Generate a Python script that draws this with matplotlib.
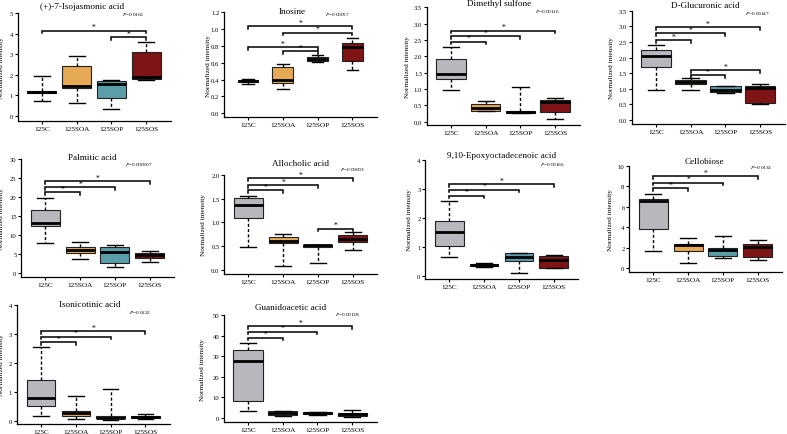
import matplotlib
matplotlib.use("Agg")
import matplotlib.pyplot as plt
from matplotlib.ticker import FormatStrFormatter, MultipleLocator

plt.rcParams['font.family'] = ['Liberation Serif', 'DejaVu Serif']
plt.rcParams['mathtext.fontset'] = 'stix'

W, H = 787, 435

groups = ["125C", "125SOA", "125SOP", "125SOS"]
colors = ["#B7B8BE", "#E6AA55", "#5B9DA8", "#7E1416"]

titles = ["(+)-7-Isojasmonic acid", "Inosine", "Dimethyl sulfone", "D-Glucuronic acid",
          "Palmitic acid", "Allocholic acid", "9,10-Epoxyoctadecenoic acid", "Cellobiose",
          "Isonicotinic acid", "Guanidoacetic acid"]
p_values = ["0.0163", "0.00057", "0.00116", "0.00147", "0.000907", "0.00603",
            "0.00166", "0.0133", "0.0222", "0.00138"]

# five-number summaries per group: [min, q1, median, q3, max]
isojasmonic = [[0.72, 1.10, 1.17, 1.23, 1.93], [0.65, 1.38, 1.45, 2.45, 2.93],
               [0.32, 0.89, 1.55, 1.70, 1.75], [1.75, 1.80, 1.91, 3.09, 3.61]]
inosine = [[0.345, 0.37, 0.385, 0.40, 0.41], [0.29, 0.36, 0.40, 0.555, 0.58],
           [0.61, 0.62, 0.645, 0.67, 0.69], [0.515, 0.625, 0.785, 0.83, 0.89]]
dimethyl = [[0.97, 1.31, 1.46, 1.92, 2.30], [0.32, 0.34, 0.42, 0.53, 0.63],
            [0.27, 0.27, 0.30, 0.33, 1.05], [0.08, 0.29, 0.60, 0.67, 0.72]]
glucuronic = [[0.97, 1.71, 2.05, 2.25, 2.40], [0.97, 1.14, 1.23, 1.28, 1.33],
              [0.85, 0.91, 0.97, 1.08, 1.08], [0.51, 0.54, 1.01, 1.08, 1.16]]
palmitic = [[7.9, 12.3, 13.1, 16.7, 19.7], [3.7, 5.35, 6.05, 6.8, 8.2],
            [1.5, 2.7, 5.6, 6.9, 7.3], [2.8, 3.9, 4.7, 5.35, 5.9]]
allocholic = [[0.49, 1.09, 1.37, 1.52, 1.56], [0.09, 0.57, 0.60, 0.685, 0.755],
              [0.14, 0.48, 0.52, 0.53, 0.53], [0.41, 0.59, 0.65, 0.74, 0.79]]
epoxy = [[0.66, 1.03, 1.49, 1.90, 2.59], [0.31, 0.33, 0.37, 0.40, 0.44],
         [0.11, 0.49, 0.63, 0.77, 0.80], [0.26, 0.26, 0.54, 0.69, 0.71]]
cellobiose = [[1.69, 3.81, 6.51, 6.74, 7.23], [0.49, 1.63, 2.20, 2.35, 2.93],
              [0.94, 1.21, 1.76, 1.95, 3.16], [0.81, 1.11, 2.08, 2.35, 2.74]]
isonicotinic = [[0.15, 0.52, 0.77, 1.41, 2.55], [0.05, 0.15, 0.26, 0.34, 0.84],
                [0.02, 0.08, 0.11, 0.17, 1.11], [0.07, 0.09, 0.13, 0.16, 0.23]]
guanidoacetic = [[3.4, 8.4, 27.6, 33.2, 36.3], [0.8, 1.6, 2.5, 3.4, 3.5],
                 [1.6, 1.8, 2.3, 2.8, 3.0], [0.6, 0.9, 1.7, 2.5, 3.8]]
panel_stats = [isojasmonic, inosine, dimethyl, glucuronic, palmitic, allocholic,
               epoxy, cellobiose, isonicotinic, guanidoacetic]

# significance brackets: (group a, group b, height)
brackets = [
    [(0, 3, 4.15), (2, 3, 3.83)],
    [(0, 3, 1.04), (1, 3, 0.96), (0, 2, 0.79), (1, 2, 0.74)],
    [(0, 3, 2.79), (0, 2, 2.61), (0, 1, 2.45)],
    [(0, 3, 2.97), (0, 2, 2.79), (0, 1, 2.57), (1, 3, 1.61), (1, 2, 1.44)],
    [(0, 3, 24.1), (0, 2, 22.7), (0, 1, 21.2)],
    [(0, 3, 1.93), (0, 2, 1.79), (0, 1, 1.68), (2, 3, 0.87)],
    [(0, 3, 3.16), (0, 2, 2.97), (0, 1, 2.76)],
    [(0, 3, 8.96), (0, 2, 8.34), (0, 1, 7.78)],
    [(0, 3, 3.10), (0, 2, 2.90), (0, 1, 2.72)],
    [(0, 3, 44.8), (0, 2, 41.9), (0, 1, 39.0)],
]

y_max = [5, 1.2, 3.5, 3.5, 30, 2.0, 4, 10, 4, 50]
y_step = [1, 0.2, 0.5, 0.5, 5, 0.5, 1, 2, 1, 10]
y_fmt = ["%d", "%.1f", "%.1f", "%.1f", "%d", "%.1f", "%d", "%d", "%d", "%d"]

# layout in pixels: left, top(ymax), zero line, x-axis line
layout = [(17.5, 14, 117, 121.7), (223.7, 13.3, 114.3, 118.3), (426.6, 8.3, 122.7, 126),
          (631.5, 11.7, 121, 125), (21, 160, 274, 278.3), (224, 175.7, 271, 275),
          (425, 160.7, 276.7, 280), (629, 166.7, 269, 273.3), (16.7, 305.7, 421.7, 425),
          (223.6, 316, 419, 423.3)]
title_pos = [(82, 7), (292, 11.5), (499, 4.5), (705, 6), (92, 158), (300, 164),
             (502, 156), (704, 161.5), (90, 305), (290.5, 308.5)]
pval_pos = [(133.5, 14), (337, 15), (548, 11.7), (758, 13.3), (139, 164.3), (353, 170),
            (553, 165), (761, 167.7), (140, 312.7), (347.5, 315)]
ylabel_dx = [13, 12.5, 16.6, 18, 17, 18, 13, 16, 12.7, 18.6]
box_w = [0.83, 0.6, 0.85, 0.87, 0.83, 0.83, 0.82, 0.83, 0.82, 0.84]
AX_W = 153

fig = plt.figure(figsize=(W / 100, H / 100), dpi=100)

for k in range(10):
    left, top, zero, bottom = layout[k]
    ax = fig.add_axes([left / W, 1 - bottom / H, AX_W / W, (bottom - top) / H])
    ymax = y_max[k]
    ylo = -(bottom - zero) / (zero - top) * ymax
    stats = []
    for g, s in zip(groups, panel_stats[k]):
        stats.append(dict(label=g, whislo=s[0], q1=s[1], med=s[2], q3=s[3], whishi=s[4]))
    bw = box_w[k]
    bp = ax.bxp(stats, positions=[1, 2, 3, 4], widths=bw, patch_artist=True,
                showfliers=False, capwidths=bw * 0.55,
                boxprops=dict(linewidth=0.8, edgecolor="#222222"),
                medianprops=dict(color="black", linewidth=2.0, solid_capstyle="butt"),
                whiskerprops=dict(color="black", linewidth=1.0, linestyle=(0, (2.2, 1.6))),
                capprops=dict(color="black", linewidth=1.0))
    for patch, c in zip(bp["boxes"], colors):
        patch.set_facecolor(c)
    ax.set_xlim(0.3, 4.7)
    ax.set_ylim(ylo, ymax)
    ax.yaxis.set_major_locator(MultipleLocator(y_step[k]))
    ax.yaxis.set_major_formatter(FormatStrFormatter(y_fmt[k]))
    ax.set_xticks([1, 2, 3, 4])
    ax.set_xticklabels(groups)
    for sp in ["top", "right"]:
        ax.spines[sp].set_visible(False)
    ax.spines["left"].set_bounds(ylo, ymax)
    for sp in ["left", "bottom"]:
        ax.spines[sp].set_linewidth(0.9)
    ax.tick_params(axis="x", length=2.5, width=0.8, labelsize=5.2, pad=1)
    ax.tick_params(axis="y", length=2, width=0.8, labelsize=4.8, pad=1.2)
    ax.set_ylabel("Normalized intensity", fontsize=5.2)
    ax.yaxis.set_label_coords(-ylabel_dx[k] / AX_W, 0.5)
    d = 2.8 * (ymax - ylo) / (bottom - top)
    for a, b, yv in brackets[k]:
        x1, x2 = a + 1, b + 1
        ax.plot([x1, x1, x2, x2], [yv - d, yv, yv, yv - d], color="black", lw=1.1,
                solid_joinstyle="miter")
        ax.annotate("*", xy=((x1 + x2) / 2, yv), xytext=(0, -0.5), textcoords="offset points",
                    ha="center", va="bottom", fontsize=5.5)
    tx, ty = title_pos[k]
    fig.text(tx / W, 1 - ty / H, titles[k], ha="center", va="center", fontsize=6.6)
    px, py = pval_pos[k]
    fig.text(px / W, 1 - py / H, r"$P$=" + p_values[k], ha="center", va="center", fontsize=3.8)

fig.savefig("out.png", dpi=100)
